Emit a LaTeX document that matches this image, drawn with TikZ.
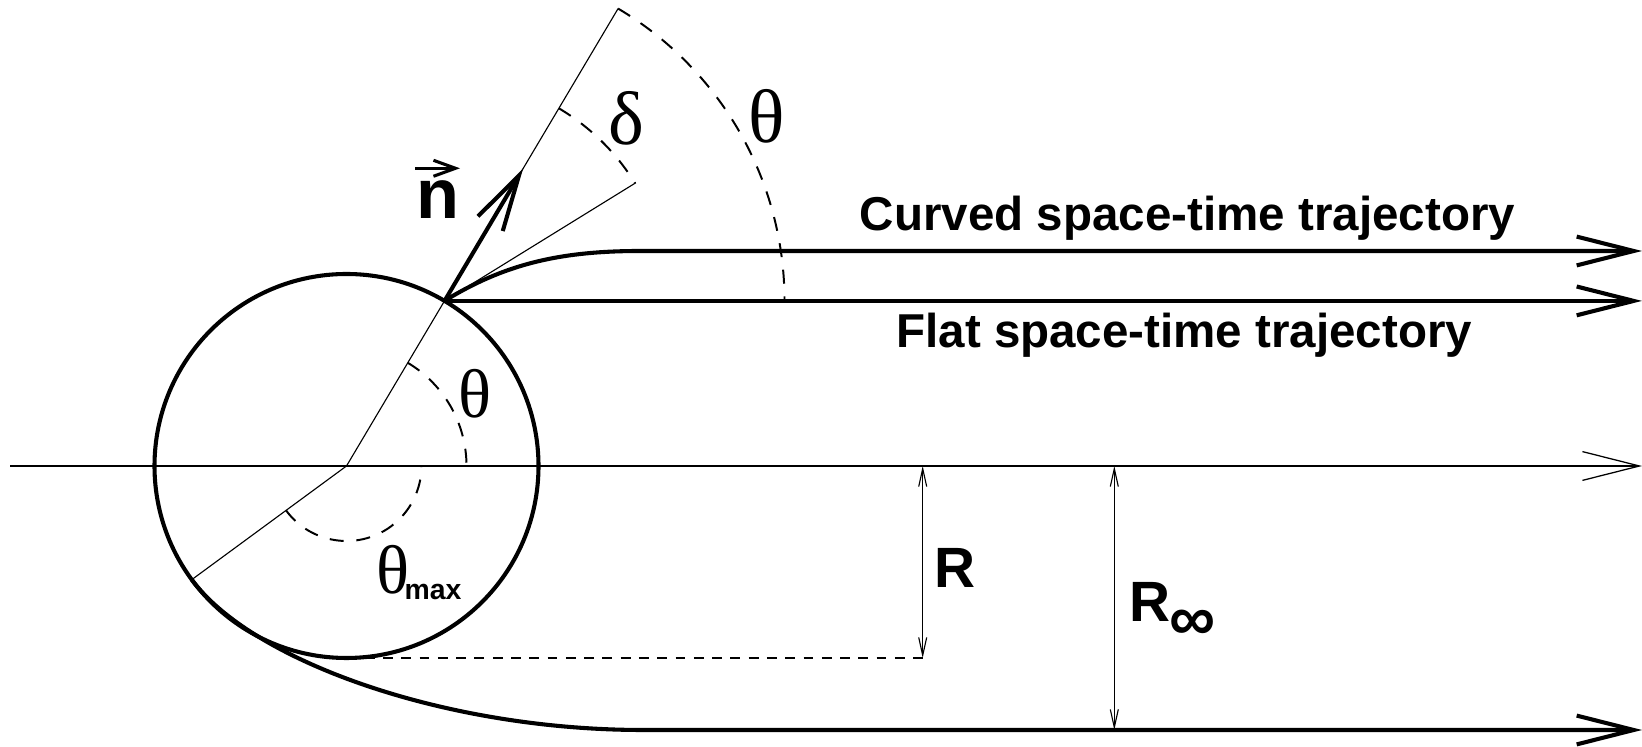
\documentclass[tikz,border=0pt]{standalone}
\usepackage{fontspec}
\setmainfont{Liberation Sans}
\newfontfamily\grk{Liberation Serif}
\usetikzlibrary{arrows.meta}
\begin{document}
\begin{tikzpicture}[x=0.025cm,y=0.025cm,
  thickln/.style={line width=2.9pt},
  thinln/.style={line width=0.8pt},
  dashln/.style={line width=1.4pt, dash pattern=on 10pt off 9pt},
  bigtip/.style={-{Straight Barb[length=1.425cm,width=0.72cm]}},
  smalltips/.style={{Straight Barb[length=0.45cm,width=0.2cm]}-{Straight Barb[length=0.45cm,width=0.2cm]}},
  lab/.style={inner sep=0pt, font=\fontsize{33.8pt}{40pt}\selectfont\bfseries},
  biglab/.style={inner sep=0pt, font=\fontsize{40.4pt}{48pt}\selectfont\bfseries},
  grkup/.style={inner sep=0pt, font=\fontsize{54pt}{60pt}\selectfont\grk},
  grklow/.style={inner sep=0pt, font=\fontsize{49pt}{56pt}\selectfont\grk},
]
\useasboundingbox (0,0) rectangle (1642,747);
% key points
\coordinate (C) at (346.5,281);
\coordinate (E) at (1642,0);
\coordinate (A0) at (10,281);
\path (C) ++(59.3:192) coordinate (P);
\path (C) ++(59.3:532) coordinate (T);
\path (C) ++(59.3:346) coordinate (N);
\path (P) ++(31.7:225) coordinate (D);
\path (P) ++(31.7:70) coordinate (Pc);
\path (C) ++(216.3:192) coordinate (Q);
\path (Q) ++(-53.7:100) coordinate (Qc);
\coordinate (B) at (346.5,89);
\coordinate (Bd) at (930,89);
\coordinate (Ct2) at (560,496);
\coordinate (Ct) at (640,496);
\coordinate (Lc2) at (443,17);
\coordinate (Lt) at (643,17);
\coordinate (R1) at (922.7,281);
\coordinate (R2) at (922.7,89);
\coordinate (S1) at (1114.3,281);
\coordinate (S2) at (1114.3,17);

% axis
\draw[line width=0.9pt,bigtip] (A0) -- (A0 -| E);
% circle
\draw[thickln] (C) circle[radius=192];
% radial lines
\draw[thinln] (C) -- (T);
\draw[thinln] (P) -- (D);
\draw[thinln] (C) -- (Q);
% angle arcs (dashes start at the radial lines)
\draw[dashln] (P) ++(59.3:224) arc[start angle=59.3,end angle=31.7,radius=224];
\draw[dashln] (P) ++(59.3:340) arc[start angle=59.3,end angle=0,radius=340];
\draw[dashln] (C) ++(59.3:120) arc[start angle=59.3,end angle=0,radius=120];
\draw[dashln] (C) ++(-143.7:75) arc[start angle=-143.7,end angle=0,radius=75];
% normal vector
\draw[line width=2.9pt,-{Straight Barb[length=1.4cm,width=0.72cm]}] (P) -- (N);
% trajectories
\draw[thickln,bigtip] (P) -- (P -| E);
\draw[thickln,bigtip] (P) .. controls (Pc) and (Ct2) .. (Ct) -- (Ct -| E);
\draw[thickln,bigtip] (Q) .. controls (Qc) and (Lc2) .. (Lt) -- (Lt -| E);
% R dimensions
\draw[line width=0.9pt, dash pattern=on 7pt off 6pt] (B) -- (Bd);
\draw[line width=0.8pt,smalltips] (R1) -- (R2);
\draw[line width=0.8pt,smalltips] (S1) -- (S2);

% labels
\node[lab,anchor=base] (curved) at (1187.5,516) {Curved space-time trajectory};
\node[lab,anchor=base] (flat) at (1184.3,399) {Flat space-time trajectory};
\node[inner sep=0pt,anchor=base,font=\fontsize{50pt}{56pt}\selectfont\bfseries] (nlab) at (437.5,528) {n};
\coordinate (va) at (415,578.7);
\coordinate (vb) at (460,578.7);
\draw[line width=2.2pt,-{Straight Barb[length=0.55cm,width=0.4cm]}] (va) -- (vb);
\node[grkup] (delta) at (626.7,628.7) {δ};
\node[grkup] (thup) at (766.7,630.3) {θ};
\node[grklow] (thlow) at (475,353.7) {θ};
\node[grklow] (thmax) at (393,177) {θ};
\node[inner sep=0pt,font=\fontsize{20.2pt}{24pt}\selectfont\bfseries] (maxlab) at (433,155.3) {max};
\node[biglab] (Rlab) at (955,179) {R};
\node[biglab] (Rinf) at (1150,145.3) {R};
\node[inner sep=0pt,font=\fontsize{46pt}{52pt}\selectfont\bfseries] (inf) at (1193,121.7) {∞};
\end{tikzpicture}
\end{document}
